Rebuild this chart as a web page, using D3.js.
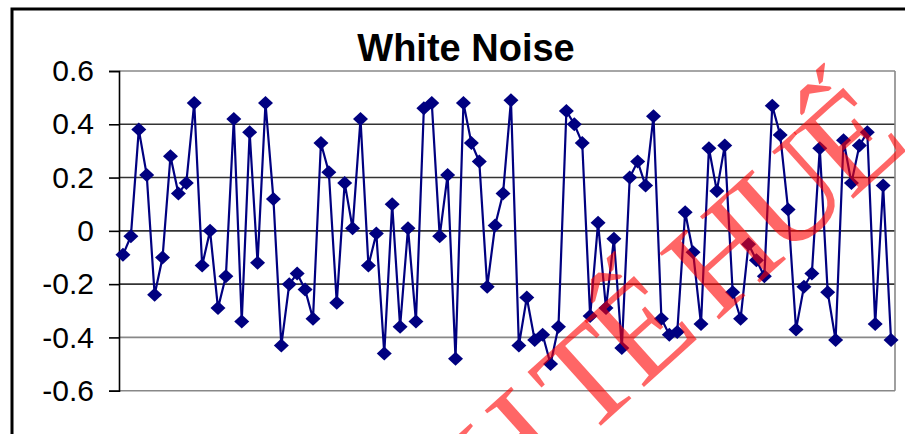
<!DOCTYPE html>
<html>
<head>
<meta charset="utf-8">
<script src="https://cdn.jsdelivr.net/npm/d3@7"></script>
<style>
  body { margin: 0; background: #fff; }
  svg { display: block; font-family: "Liberation Sans", Arial, sans-serif; }
</style>
</head>
<body>
<script>
var title = "White Noise";
var yTicks = [-0.6, -0.4, -0.2, 0, 0.2, 0.4, 0.6];
var noise = [
  -0.09, -0.02, 0.38, 0.21, -0.24, -0.10, 0.28, 0.14, 0.18, 0.48,
  -0.13, 0.00, -0.29, -0.17, 0.42, -0.34, 0.37, -0.12, 0.48, 0.12,
  -0.43, -0.20, -0.16, -0.22, -0.33, 0.33, 0.22, -0.27, 0.18, 0.01,
  0.42, -0.13, -0.01, -0.46, 0.10, -0.36, 0.01, -0.34, 0.46, 0.48,
  -0.02, 0.21, -0.48, 0.48, 0.33, 0.26, -0.21, 0.02, 0.14, 0.49,
  -0.43, -0.25, -0.41, -0.39, -0.50, -0.36, 0.45, 0.40, 0.33, -0.32,
  0.03, -0.29, -0.03, -0.44, 0.20, 0.26, 0.17, 0.43, -0.33, -0.39,
  -0.38, 0.07, -0.08, -0.35, 0.31, 0.15, 0.32, -0.23, -0.33, -0.05,
  -0.11, -0.17, 0.47, 0.36, 0.08, -0.37, -0.21, -0.16, 0.31, -0.23,
  -0.41, 0.34, 0.18, 0.32, 0.37, -0.35, 0.17, -0.41
];
var watermark = "KINH TẾ HUẾ";

var width = 905, height = 434;
var plotLeft = 119, plotRight = 895, plotTop = 71, plotBottom = 390.7;

var svg = d3.select("body")
    .append("svg")
    .attr("width", width)
    .attr("height", height);

svg.append("rect")
    .attr("width", width)
    .attr("height", height)
    .attr("fill", "#fff");

// chart frame
svg.append("path")
    .attr("d", "M12," + height + "V9H" + width)
    .attr("fill", "none")
    .attr("stroke", "#000")
    .attr("stroke-width", 3);

var x = d3.scalePoint()
    .domain(d3.range(noise.length))
    .range([plotLeft, plotRight])
    .padding(0.5);

var y = d3.scaleLinear()
    .domain([-0.6, 0.6])
    .range([plotBottom, plotTop]);

// grid lines
svg.append("g")
    .selectAll("line")
    .data(yTicks)
    .enter()
    .append("line")
    .attr("x1", plotLeft)
    .attr("x2", plotRight)
    .attr("y1", function (d) { return y(d); })
    .attr("y2", function (d) { return y(d); })
    .attr("stroke", function (d) { return (d == 0.6 || d == -0.6 || d == -0.4) ? "#888" : "#333"; })
    .attr("stroke-width", 1.6);

// plot area right edge
svg.append("line")
    .attr("x1", plotRight)
    .attr("x2", plotRight)
    .attr("y1", plotTop)
    .attr("y2", plotBottom)
    .attr("stroke", "#888")
    .attr("stroke-width", 1.6);

var yAxis = svg.append("g")
    .attr("transform", "translate(" + plotLeft + ",0)")
    .call(d3.axisLeft(y)
        .tickValues(yTicks)
        .tickSize(10)
        .tickPadding(15)
        .tickFormat(function (d) { return String(Math.round(d * 10) / 10); }));

yAxis.select(".domain")
    .attr("stroke", "#000")
    .attr("stroke-width", 1.6);
yAxis.selectAll(".tick line")
    .attr("stroke", "#000")
    .attr("stroke-width", 1.6);
yAxis.selectAll(".tick text")
    .attr("fill", "#000")
    .style("font-family", "'Liberation Sans', Arial, sans-serif")
    .style("font-size", "30px");

svg.append("text")
    .attr("x", 466)
    .attr("y", 61)
    .attr("text-anchor", "middle")
    .style("font-size", "38px")
    .style("font-weight", "bold")
    .text(title);

var line = d3.line()
    .x(function (d, i) { return x(i); })
    .y(function (d) { return y(d); });

svg.append("path")
    .datum(noise)
    .attr("d", line)
    .attr("fill", "none")
    .attr("stroke", "#000080")
    .attr("stroke-width", 2.2);

svg.append("g")
    .selectAll("path")
    .data(noise)
    .enter()
    .append("path")
    .attr("d", "M0,-7L7.5,0L0,7L-7.5,0Z")
    .attr("transform", function (d, i) { return "translate(" + x(i) + "," + y(d) + ")"; })
    .attr("fill", "#000080");

// watermark
svg.append("text")
    .attr("transform", "translate(906,151) rotate(-42)")
    .attr("text-anchor", "end")
    .style("font-family", "'Liberation Serif', 'Times New Roman', serif")
    .style("font-size", "136px")
    .style("letter-spacing", "-8px")
    .attr("fill", "#ff0000")
    .attr("fill-opacity", 0.6)
    .text(watermark);
</script>
</body>
</html>
